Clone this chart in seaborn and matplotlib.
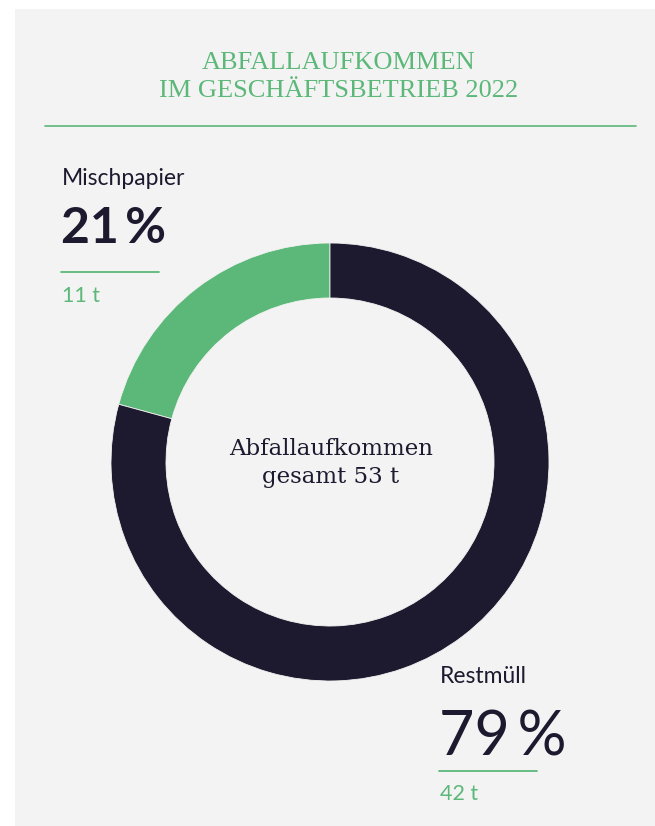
import matplotlib
matplotlib.use('Agg')
import matplotlib.pyplot as plt
import seaborn as sns
from matplotlib.patches import Rectangle

# Daten
categories = ['Mischpapier', 'Restmüll']
tonnes = [11, 42]
percent_labels = ['21\u2009%', '79\u2009%']
amount_labels = ['11 t', '42 t']
title_lines = ['ABFALLAUFKOMMEN', 'IM GESCHÄFTSBETRIEB 2022']
center_text = 'Abfallaufkommen\ngesamt 53 t'

green = '#5cb879'
dark = '#1d1a2f'
bg = '#f3f3f3'

sns.set_theme(style='white')
plt.rcParams['font.family'] = ['Lato', 'DejaVu Sans']

W, H = 655, 826
fig = plt.figure(figsize=(W / 100, H / 100), dpi=100, facecolor='white')
ax = fig.add_axes([0, 0, 1, 1])


def py(y):  # pixel von oben -> daten y
    return H - y


ax.add_patch(Rectangle((15, 0), W - 15, H - 9, facecolor=bg, edgecolor='none', zorder=0))

colors = sns.color_palette([green, dark])
ax.pie(tonnes, colors=colors, startangle=90, counterclock=True,
       center=(330, py(462)), radius=219,
       wedgeprops=dict(width=55, edgecolor=bg, linewidth=0.6))

ax.set_xlim(0, W)
ax.set_ylim(0, H)
ax.set_aspect('equal')
ax.axis('off')

# Titel
ax.text(339, py(69), title_lines[0], ha='center', va='baseline', color=green,
        fontsize=19, family='Liberation Serif')
ax.text(339, py(97), title_lines[1], ha='center', va='baseline', color=green,
        fontsize=19, family='Liberation Serif')
ax.plot([45, 636], [py(126), py(126)], color=green, lw=1.2)

# Mitte
ax.text(331, py(463), center_text, ha='center', va='center', color=dark,
        fontsize=16.5, family='DejaVu Serif', linespacing=1.3)

# Beschriftungen
x0 = [62, 440]
y_name = [185, 683]
y_pct = [243, 755]
y_line = [272, 771]
y_amt = [302, 800]
pct_size = [36, 44]
pct_weight = ['bold', 'normal']
for i in range(2):
    ax.text(x0[i], py(y_name[i]), categories[i], ha='left', va='baseline',
            color=dark, fontsize=16.5)
    ax.text(x0[i] - 1, py(y_pct[i]), percent_labels[i], ha='left', va='baseline',
            color=dark, fontsize=pct_size[i], fontweight=pct_weight[i])
    ax.plot([x0[i] - 1, x0[i] + 97], [py(y_line[i]), py(y_line[i])], color=green, lw=1.3)
    ax.text(x0[i], py(y_amt[i]), amount_labels[i], ha='left', va='baseline',
            color=green, fontsize=15.5)

fig.savefig('out.png', dpi=100, facecolor='white')
